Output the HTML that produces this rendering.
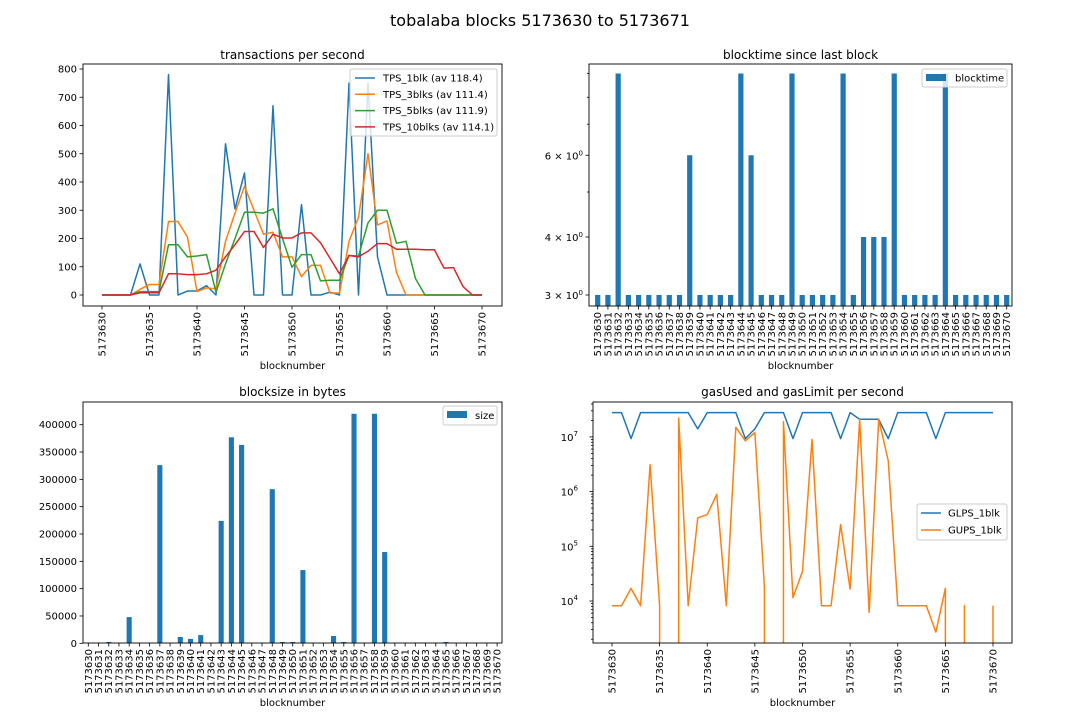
<!DOCTYPE html>
<html><head><meta charset="utf-8"><style>
html,body{margin:0;padding:0;background:#fff;width:1080px;height:720px;overflow:hidden;}
svg{display:block;font-family:"DejaVu Sans","Liberation Sans",sans-serif;}
</style></head><body>
<svg id="fig" width="1080" height="720" viewBox="0 0 1080 720">
<defs>
<clipPath id="c1"><rect x="83" y="64" width="419" height="242"/></clipPath>
<clipPath id="c4"><rect x="593" y="402" width="419" height="241"/></clipPath>
</defs>
</svg>
<script>
const blocks = [];
for (let b = 5173630; b <= 5173670; b++) blocks.push(b);
const tps1 = [0,0,0,0,110,0,0,780,0,14,14,33,0,535,305,432,0,0,670,0,0,320,0,0,10,0,750,0,750,135,0,0,0,0,0,0,0,0,0,0,0];
const tps3 = [0,0,0,0,20,37,37,260,260,205,12,25,22,190,290,385,300,215,222,135,135,65,105,105,7,7,190,275,500,248,262,80,0,0,0,0,0,0,0,0,0];
const tps5 = [0,0,0,0,12,12,12,178,178,135,138,143,10,110,200,293,293,290,305,200,98,143,143,50,52,52,140,138,255,300,300,183,190,58,0,0,0,0,0,0,0];
const tps10 = [0,0,0,0,8,8,8,75,75,72,72,75,88,135,178,225,225,168,215,202,202,220,220,185,130,75,140,135,155,182,182,162,162,162,160,160,95,97,30,0,0];
const tpsTicks = [0,100,200,300,400,500,600,700,800];
const blocktime = [3,3,9,3,3,3,3,3,3,6,3,3,3,3,9,6,3,3,3,9,3,3,3,3,9,3,4,4,4,9,3,3,3,3,9,3,3,3,3,3,3];
const blocksize = [0,0,2400,0,48000,0,0,326000,0,11600,8000,15000,0,224000,377000,363000,0,0,282000,2400,2400,134000,0,0,13400,2400,420000,0,420000,167000,0,0,0,0,0,2400,0,0,0,0,0];
const sizeTicks = [0,50000,100000,150000,200000,250000,300000,350000,400000];
const glps = [2.78e7,2.78e7,9.3e6,2.78e7,2.78e7,2.78e7,2.78e7,2.78e7,2.78e7,1.4e7,2.78e7,2.78e7,2.78e7,2.78e7,9.3e6,1.4e7,2.78e7,2.78e7,2.78e7,9.3e6,2.78e7,2.78e7,2.78e7,2.78e7,9.3e6,2.78e7,2.1e7,2.1e7,2.1e7,9.3e6,2.78e7,2.78e7,2.78e7,2.78e7,9.3e6,2.78e7,2.78e7,2.78e7,2.78e7,2.78e7,2.78e7];
const gups = [8200,8200,17000,8200,3.1e6,8200,0,2.2e7,8200,3.3e5,3.8e5,8.9e5,8200,1.5e7,8.5e6,1.2e7,18000,0,1.9e7,11500,35000,9e6,8200,8200,2.5e5,16600,2.1e7,6200,2.1e7,3.7e6,8200,8200,8200,8200,2700,17000,0,8200,0,0,8200];

const NS = 'http://www.w3.org/2000/svg';
const svg = document.getElementById('fig');
function mk(tag, attrs, name, parent) {
  const el = document.createElementNS(NS, tag);
  for (const k in attrs) el.setAttribute(k, attrs[k]);
  
  
  (parent || svg).appendChild(el);
  return el;
}
function txt(x, y, s, name, opts) {
  const o = Object.assign({x: x, y: y, 'font-size': 10, fill: '#000'}, opts || {});
  const t = mk('text', o, name);
  t.textContent = s;
  return t;
}
function frame(x, y, w, h, name) {
  mk('rect', {x: x, y: y, width: w, height: h, fill: 'none', stroke: '#000', 'stroke-width': 0.9}, name);
}
function xTickRot(x, yb, label, name) {
  mk('line', {x1: x, y1: yb, x2: x, y2: yb + 3.5, stroke: '#000', 'stroke-width': 0.8}, name + '-tick');
  txt(0, 0, label, name + '-label', {transform: 'translate(' + (x + 3.5) + ',' + (yb + 6) + ') rotate(-90)', 'text-anchor': 'end'});
}
function yTick(x, y, label, name, len) {
  mk('line', {x1: x - (len || 3.5), y1: y, x2: x, y2: y, stroke: '#000', 'stroke-width': 0.8}, name + '-tick');
  if (label !== null) txt(x - 6, y + 3.5, label, name + '-label', {'text-anchor': 'end'});
}
function poly(pts, color, name, clip) {
  const a = {points: pts.map(p => p[0].toFixed(2) + ',' + p[1].toFixed(2)).join(' '), fill: 'none', stroke: color, 'stroke-width': 1.5, 'stroke-linejoin': 'round'};
  if (clip) a['clip-path'] = 'url(#' + clip + ')';
  mk('polyline', a, name);
}

txt(540, 26, 'tobalaba blocks 5173630 to 5173671', 'figure-title', {'font-size': 16, 'text-anchor': 'middle'});

// ---- Chart 1: TPS
const x1 = i => 102 + i * 9.5;
const y1 = v => 295 - v * 0.2825;
txt(292.5, 59, 'transactions per second', 'tps-title', {'font-size': 12, 'text-anchor': 'middle'});
tpsTicks.forEach(v => yTick(83, y1(v), String(v), 'tps-y-' + v));
blocks.forEach((b, i) => { if (i % 5 === 0) xTickRot(x1(i), 306, String(b), 'tps-x-' + b); });
txt(292.5, 369, 'blocknumber', 'tps-x-axis-title', {'text-anchor': 'middle'});
const series1 = [[tps1, '#1f77b4', 'TPS_1blk (av 118.4)', 'tps-1blk-line'], [tps3, '#ff7f0e', 'TPS_3blks (av 111.4)', 'tps-3blks-line'], [tps5, '#2ca02c', 'TPS_5blks (av 111.9)', 'tps-5blks-line'], [tps10, '#d62728', 'TPS_10blks (av 114.1)', 'tps-10blks-line']];
series1.forEach(s => poly(s[0].map((v, i) => [x1(i), y1(v)]), s[1], s[3], 'c1'));
frame(83, 64, 419, 242, 'tps-axes');
mk('rect', {x: 350, y: 69, width: 147, height: 67, rx: 2, fill: '#fff', 'fill-opacity': 0.8, stroke: '#ccc'}, 'tps-legend');
series1.forEach((s, k) => {
  const yy = 78 + k * 16.3;
  mk('line', {x1: 355, y1: yy, x2: 375, y2: yy, stroke: s[1], 'stroke-width': 1.5}, 'tps-legend-swatch-' + k);
  txt(383, yy + 3.5, s[2], 'tps-legend-entry-' + k);
});

// ---- Chart 2: blocktime (log)
const x2 = i => 597.7 + i * 10.225;
const y2 = v => 295 - Math.log(v / 3) * 201.6;
txt(800.5, 59, 'blocktime since last block', 'blocktime-title', {'font-size': 12, 'text-anchor': 'middle'});
blocktime.forEach((v, i) => {
  mk('rect', {x: x2(i) - 2.6, y: y2(v), width: 5.2, height: 306 - y2(v), fill: '#1f77b4'}, 'blocktime-bar-' + blocks[i]);
});
[3, 4, 6].forEach(v => {
  yTick(589, y2(v), null, 'blocktime-y-' + v);
  const t = txt(583, y2(v) + 4, '', 'blocktime-y-label-' + v, {'text-anchor': 'end'});
  t.textContent = v + ' \u00d7 10';
  const sp = document.createElementNS(NS, 'tspan');
  sp.setAttribute('dy', '-4'); sp.setAttribute('font-size', '7'); sp.textContent = '0';
  t.appendChild(sp);
});
[5, 7, 8, 9].forEach(v => yTick(589, y2(v), null, 'blocktime-minor-' + v, 2));
blocks.forEach((b, i) => xTickRot(x2(i), 306, String(b), 'blocktime-x-' + b));
txt(800.5, 369, 'blocknumber', 'blocktime-x-axis-title', {'text-anchor': 'middle'});
frame(589, 64, 423, 242, 'blocktime-axes');
mk('rect', {x: 922, y: 69, width: 85, height: 18, rx: 2, fill: '#fff', 'fill-opacity': 0.8, stroke: '#ccc'}, 'blocktime-legend');
mk('rect', {x: 926, y: 74, width: 20, height: 7, fill: '#1f77b4'}, 'blocktime-legend-swatch');
txt(955, 81.5, 'blocktime', 'blocktime-legend-entry');

// ---- Chart 3: blocksize
const x3 = i => 88.3 + i * 10.22;
const y3 = v => 643.3 - v * 0.0005465;
txt(292.5, 396, 'blocksize in bytes', 'blocksize-title', {'font-size': 12, 'text-anchor': 'middle'});
blocksize.forEach((v, i) => {
  if (v > 0) mk('rect', {x: x3(i) - 2.55, y: y3(v), width: 5.1, height: 643.3 - y3(v), fill: '#1f77b4'}, 'blocksize-bar-' + blocks[i]);
});
sizeTicks.forEach(v => yTick(83, y3(v), String(v), 'blocksize-y-' + v));
blocks.forEach((b, i) => xTickRot(x3(i), 643, String(b), 'blocksize-x-' + b));
txt(292.5, 706, 'blocknumber', 'blocksize-x-axis-title', {'text-anchor': 'middle'});
frame(83, 402, 419, 241, 'blocksize-axes');
mk('rect', {x: 443, y: 406, width: 54, height: 19, rx: 2, fill: '#fff', 'fill-opacity': 0.8, stroke: '#ccc'}, 'blocksize-legend');
mk('rect', {x: 447, y: 411, width: 20, height: 7, fill: '#1f77b4'}, 'blocksize-legend-swatch');
txt(475, 419, 'size', 'blocksize-legend-entry');

// ---- Chart 4: gas (log)
const x4 = i => 612 + i * 9.525;
const y4 = v => 601 - (Math.log10(v) - 4) * 54.7;
txt(802.5, 396, 'gasUsed and gasLimit per second', 'gas-title', {'font-size': 12, 'text-anchor': 'middle'});
[4, 5, 6, 7].forEach(e => {
  yTick(593, y4(Math.pow(10, e)), null, 'gas-y-1e' + e);
  const t = txt(578, y4(Math.pow(10, e)) + 4, '10', 'gas-y-label-1e' + e, {'text-anchor': 'end'});
  const sp = document.createElementNS(NS, 'tspan');
  sp.setAttribute('dy', '-5'); sp.setAttribute('font-size', '7'); sp.textContent = String(e);
  t.appendChild(sp);
});
[3, 4, 5, 6, 7].forEach(e => { for (let m = 2; m <= 9; m++) { const y = y4(m * Math.pow(10, e)); if (y > 402 && y < 643) yTick(593, y, null, 'gas-minor-' + m + 'e' + e, 2); } });
blocks.forEach((b, i) => { if (i % 5 === 0) xTickRot(x4(i), 643, String(b), 'gas-x-' + b); });
txt(802.5, 706, 'blocknumber', 'gas-x-axis-title', {'text-anchor': 'middle'});
poly(glps.map((v, i) => [x4(i), y4(v)]), '#1f77b4', 'glps-line', 'c4');
// GUPS: zero values on log scale drop vertically off the bottom of the axes
let seg = [];
let segN = 0;
gups.forEach((v, i) => {
  if (v > 0) {
    if (i > 0 && gups[i - 1] <= 0) seg.push([x4(i), 650]);
    seg.push([x4(i), y4(v)]);
  } else {
    if (i > 0 && gups[i - 1] > 0) seg.push([x4(i - 1), 650]);
    if (seg.length) { poly(seg, '#ff7f0e', 'gups-line-segment-' + segN, 'c4'); segN++; }
    seg = [];
  }
});
if (seg.length) poly(seg, '#ff7f0e', 'gups-line-segment-' + segN, 'c4');
frame(593, 402, 419, 241, 'gas-axes');
mk('rect', {x: 917, y: 504, width: 90, height: 36, rx: 2, fill: '#fff', 'fill-opacity': 0.8, stroke: '#ccc'}, 'gas-legend');
mk('line', {x1: 921, y1: 513, x2: 941, y2: 513, stroke: '#1f77b4', 'stroke-width': 1.5}, 'gas-legend-swatch-glps');
txt(948, 516.5, 'GLPS_1blk', 'gas-legend-entry-glps');
mk('line', {x1: 921, y1: 530, x2: 941, y2: 530, stroke: '#ff7f0e', 'stroke-width': 1.5}, 'gas-legend-swatch-gups');
txt(948, 533.5, 'GUPS_1blk', 'gas-legend-entry-gups');
</script>
</body></html>
